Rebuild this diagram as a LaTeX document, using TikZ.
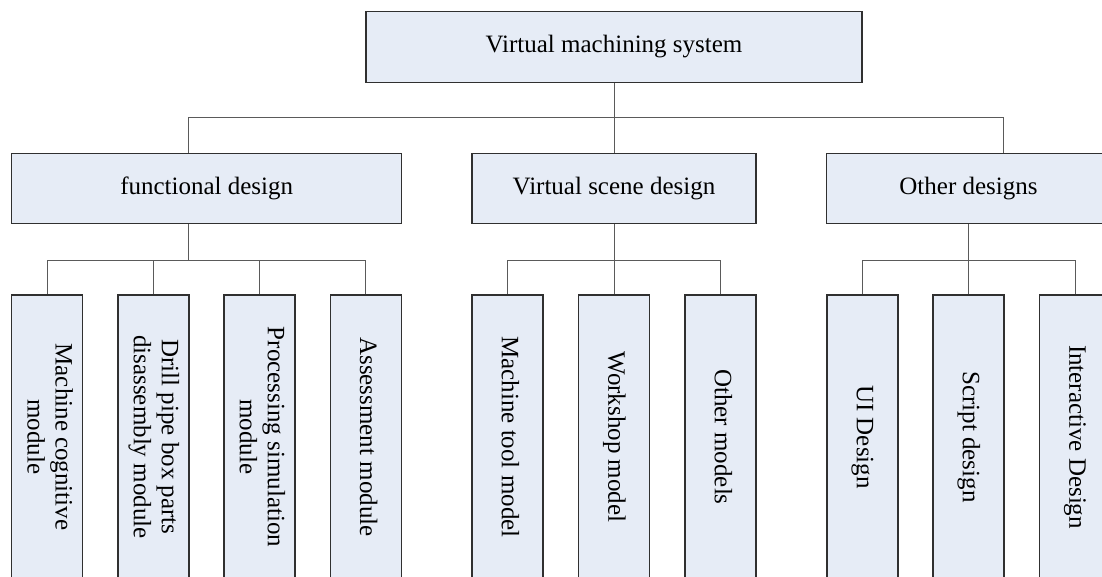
\documentclass[tikz,border=0pt]{standalone}
\usepackage{fontspec}
\setmainfont{Liberation Serif}
\usepackage{graphicx}
\usepackage{tikz}
\usetikzlibrary{positioning}
\definecolor{boxfill}{HTML}{E6ECF6}
\definecolor{boxline}{HTML}{303030}
\definecolor{linkgray}{HTML}{5A5A5A}
\newcommand{\vlabel}[1]{\rotatebox{-90}{\begin{tabular}{@{}c@{}}#1\end{tabular}}}

\begin{document}
\begin{tikzpicture}[x=1pt,y=-1pt,
  box/.style={draw=boxline,line width=1.2pt,fill=boxfill,inner sep=0pt,
    font=\fontsize{25}{28}\selectfont,minimum height=70.5pt},
  leaf/.style={box,minimum width=71pt,minimum height=284pt},
  link/.style={draw=linkgray,line width=1pt}]
  \useasboundingbox (0,0) rectangle (1102,577);

  \node[box,minimum width=496pt] (sys) at (614,47) {Virtual machining system};

  \node[box,minimum width=390pt] (func) at (206.7,188.5) {functional design};
  \node[box,minimum width=284pt] (scene) at (614,188.5) {Virtual scene design};
  \node[box,minimum width=284pt] (other) at (968.5,188.5) {Other designs};

  \node[leaf] (f1) at (47.2,437) {\vlabel{Machine cognitive\\module}};
  \node[leaf] (f2) at (153.5,437) {\vlabel{Drill pipe box parts\\disassembly module}};
  \node[leaf] (f3) at (259.5,437) {\vlabel{Processing simulation\\module}};
  \node[leaf] (f4) at (365.8,437) {\vlabel{Assessment module}};

  \node[leaf] (s1) at (507.5,437) {\vlabel{Machine tool model}};
  \node[leaf] (s2) at (614,437) {\vlabel{Workshop model}};
  \node[leaf] (s3) at (720.5,437) {\vlabel{Other models}};

  \node[leaf] (o1) at (862.5,437) {\vlabel{UI Design}};
  \node[leaf] (o2) at (968.5,437) {\vlabel{Script design}};
  \node[leaf] (o3) at (1075,437) {\vlabel{Interactive Design}};

  \draw[link] (sys.south) -- ++(0,35) coordinate (tbar);
  \draw[link] (tbar) -| ([xshift=-18.7pt]func.north);
  \draw[link] (tbar) -- (scene.north);
  \draw[link] (tbar) -| ([xshift=34.5pt]other.north);

  \draw[link] ([xshift=-18.7pt]func.south) -- ++(0,36) coordinate (fbar);
  \foreach \n in {f1,f2,f3,f4}
    \draw[link] (fbar) -| (\n.north);

  \draw[link] (scene.south) -- ++(0,36) coordinate (sbar);
  \foreach \n in {s1,s2,s3}
    \draw[link] (sbar) -| (\n.north);

  \draw[link] (other.south) -- ++(0,36) coordinate (obar);
  \foreach \n in {o1,o2,o3}
    \draw[link] (obar) -| (\n.north);
\end{tikzpicture}
\end{document}
